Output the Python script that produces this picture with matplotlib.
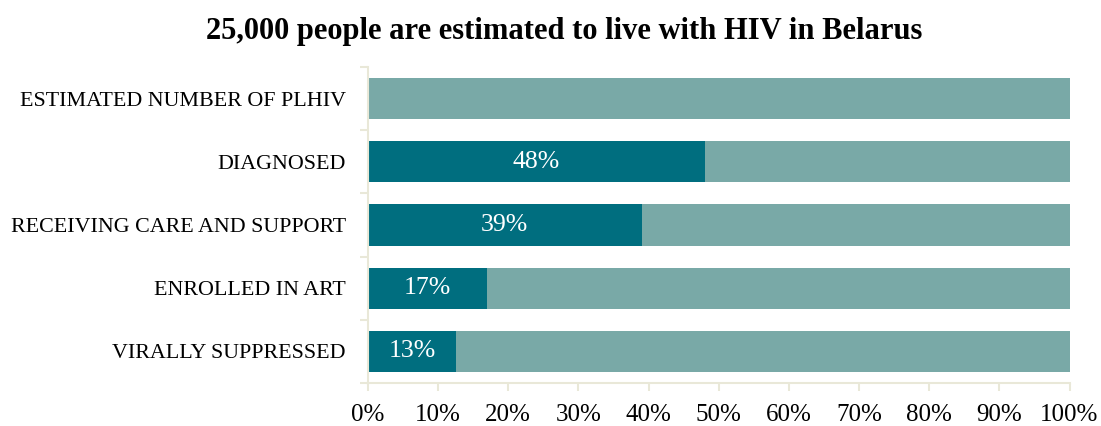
import matplotlib
matplotlib.use("Agg")
import matplotlib.pyplot as plt
from matplotlib.ticker import FuncFormatter

categories = ["ESTIMATED NUMBER OF PLHIV", "DIAGNOSED", "RECEIVING CARE AND SUPPORT",
              "ENROLLED IN ART", "VIRALLY SUPPRESSED"]
achieved = [0, 48, 39, 17, 12.6]
remaining = [100, 52.4, 61.4, 83.4, 87.8]
value_labels = ["", "48%", "39%", "17%", "13%"]
xticks = [0, 10, 20, 30, 40, 50, 60, 70, 80, 90, 100]
title = "25,000 people are estimated to live with HIV in Belarus"

dark = "#006e7f"
light = "#79a9a7"
spine_col = "#e9e8d8"
font = "Liberation Serif"

fig = plt.figure(figsize=(11.01, 4.26), dpi=100)
ax = fig.add_axes([368 / 1101, 1 - 383 / 426, (1069.5 - 368) / 1101, (383 - 67) / 426])

y = list(range(len(categories)))
ax.barh(y, achieved, height=0.65, color=dark, edgecolor="none")
ax.barh(y, remaining, left=achieved, height=0.65, color=light, edgecolor="none")

for yi, a, lab in zip(y, achieved, value_labels):
    if lab:
        ax.text(a / 2, yi, lab, ha="center", va="center", color="white",
                fontsize=18.5, family=font)

ax.set_ylim(len(categories) - 0.5, -0.5)
ax.set_xlim(0, 100)
ax.set_yticks(y)
ax.set_yticklabels(categories)
ax.set_yticks([i - 0.5 for i in range(len(categories) + 1)], minor=True)
ax.tick_params(axis="y", which="major", length=0, pad=16, labelsize=15.8,
               labelfontfamily=font)
ax.tick_params(axis="y", which="minor", length=6, color=spine_col, width=1.5)
ax.set_xticks(xticks)
ax.xaxis.set_major_formatter(FuncFormatter(lambda v, p: f"{int(v)}%"))
ax.tick_params(axis="x", length=6, color=spine_col, width=1.5, labelsize=18, pad=9,
               labelfontfamily=font)

for s in ["top", "right"]:
    ax.spines[s].set_visible(False)
for s in ["left", "bottom"]:
    ax.spines[s].set_color(spine_col)
    ax.spines[s].set_linewidth(1.5)

fig.text(564 / 1101, 1 - 32 / 426, title, ha="center", va="center",
         fontsize=22, fontweight="bold", family=font)

fig.savefig("out.png", dpi=100)
